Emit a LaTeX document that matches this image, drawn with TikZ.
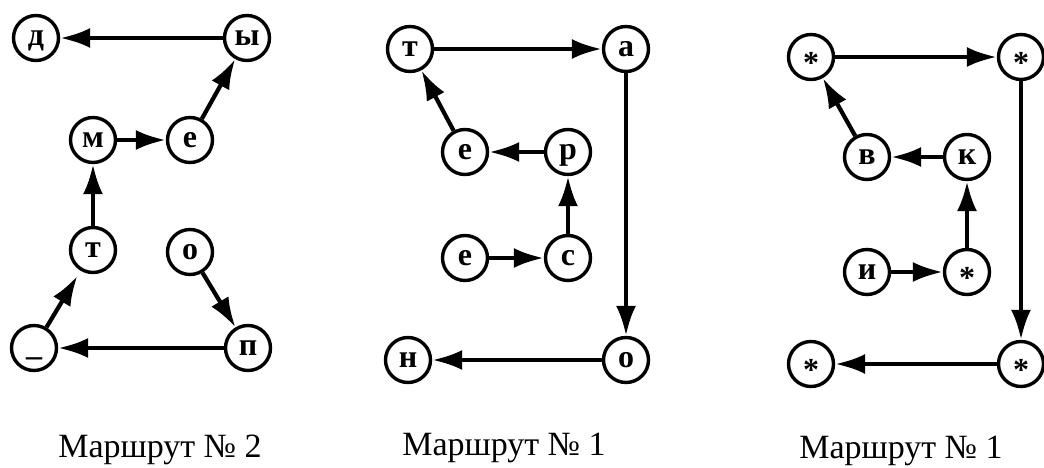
\documentclass[tikz,border=0pt]{standalone}
\usepackage{fontspec}
\setmainfont{Liberation Serif}
\usetikzlibrary{arrows.meta}
\begin{document}
\begin{tikzpicture}[x=1pt,y=-1pt,
  nd/.style={circle, draw, line width=3.4pt, minimum size=45pt, inner sep=0pt,
    font=\bfseries\fontsize{32}{32}\selectfont, text height=15pt, text depth=0pt},
  arr/.style={line width=4.2pt, -{Latex[length=30pt,width=20pt]}},
  lbl/.style={font=\fontsize{34}{34}\selectfont, anchor=base, inner sep=0pt}]
\fill[white] (0,0) rectangle (1044,468);
\useasboundingbox (0,0) rectangle (1044,468);
\newcommand{\stx}{\raisebox{-9pt}{*}}
% Panel 1
\node[nd] (ad) at (36,38) {д};
\node[nd] (ay) at (247,38) {ы};
\node[nd] (am) at (93,140) {м};
\node[nd] (ae) at (190,140) {е};
\node[nd] (at) at (93,250) {т};
\node[nd] (ao) at (190,252) {о};
\node[nd] (au) at (34,348) {\_};
\node[nd] (ap) at (248,348) {п};
\draw[arr] (ay) -- (ad);
\draw[arr] (ae) -- (ay);
\draw[arr] (am) -- (ae);
\draw[arr] (at) -- (am);
\draw[arr, shorten >=6pt] (au) -- (at);
\draw[arr] (ap) -- (au);
\draw[arr] (ao) -- (ap);
% Panel 2
\node[nd] (bt) at (410,49) {т};
\node[nd] (ba) at (626,49) {а};
\node[nd] (be) at (465,152) {е};
\node[nd] (br) at (568,152) {р};
\node[nd] (bf) at (465,258) {е};
\node[nd] (bc) at (568,258) {с};
\node[nd] (bn) at (408,360) {н};
\node[nd] (bo) at (626,360) {о};
\draw[arr] (bt) -- (ba);
\draw[arr] (ba) -- (bo);
\draw[arr] (be) -- (bt);
\draw[arr] (br) -- (be);
\draw[arr] (bc) -- (br);
\draw[arr] (bf) -- (bc);
\draw[arr] (bo) -- (bn);
% Panel 3
\node[nd] (c1) at (811,57) {\stx};
\node[nd] (c2) at (1021,57) {\stx};
\node[nd] (cv) at (867,157) {в};
\node[nd] (ck) at (967,157) {к};
\node[nd] (ci) at (867,272) {и};
\node[nd] (c3) at (967,272) {\stx};
\node[nd] (c4) at (811,364) {\stx};
\node[nd] (c5) at (1021,364) {\stx};
\draw[arr] (c1) -- (c2);
\draw[arr] (c2) -- (c5);
\draw[arr] (cv) -- (c1);
\draw[arr] (ck) -- (cv);
\draw[arr] (c3) -- (ck);
\draw[arr] (ci) -- (c3);
\draw[arr] (c5) -- (c4);
% Labels
\node[lbl] (l1) at (160,457) {Маршрут № 2};
\node[lbl] (l2) at (504,455) {Маршрут № 1};
\node[lbl] (l3) at (901,458) {Маршрут № 1};
\end{tikzpicture}
\end{document}
